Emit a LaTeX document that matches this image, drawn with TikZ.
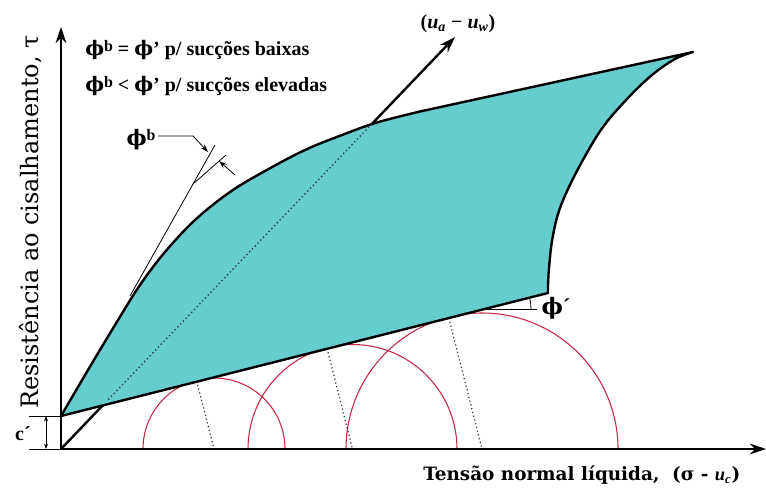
\documentclass[tikz,border=0pt]{standalone}
\usepackage{fontspec}
\setmainfont{Liberation Serif}
\newfontfamily\dvs{DejaVu Serif}
\newcommand{\ph}{{\dvs ϕ}}
\usetikzlibrary{arrows.meta,calc}
\definecolor{fillc}{RGB}{102,204,206}
\definecolor{circc}{RGB}{200,40,70}
\definecolor{dotc}{RGB}{40,60,80}
\begin{document}
\begin{tikzpicture}[x=0.75pt,y=-0.75pt,
  bold/.style={line width=1.8pt},
  thinline/.style={line width=0.6pt},
  mohr/.style={circc,line width=0.8pt},
  rad/.style={dotted,line width=0.9pt,black!80},
  lbl/.style={inner sep=0pt,font=\fontsize{15}{18}\selectfont\bfseries},
  bigtip/.style={-{Stealth[length=12pt,width=8pt]}},
  smalltip/.style={-{Stealth[length=6pt,width=4pt]}}]
\useasboundingbox (0,0) rectangle (766,488);

% key coordinates
\coordinate (O) at (61,449);
\coordinate (Ytip) at (61,27);
\coordinate (Xtip) at (766,449);
\coordinate (C) at (61,416);
\coordinate (K) at (548,293);
\coordinate (Utip) at (455,37);

% Mohr circles
\coordinate (m1) at (214,449);
\coordinate (m2) at (352.5,449);
\coordinate (m3) at (482,449);
\coordinate (p1) at (196.7,381.1);
\coordinate (p2) at (327.1,348.6);
\coordinate (p3) at (448.9,318.1);
\draw[mohr] (143,449) arc[start angle=180,end angle=360,radius=71];
\draw[mohr] (248,449) arc[start angle=180,end angle=360,radius=104.5];
\draw[mohr] (346,449) arc[start angle=180,end angle=360,radius=136];
\draw[rad] (p1) -- (m1);
\draw[rad] (p2) -- (m2);
\draw[rad] (p3) -- (m3);

% suction axis arrow
\draw[bold,bigtip] (O) -- (Utip);

% failure envelope surface
\filldraw[fill=fillc,draw=black,bold,line join=round]
  plot[smooth,tension=0.6] coordinates {(61,416) (88,370) (115,325) (140,285) (165,252) (195,220) (230,192) (265,171) (305,150) (342,135) (377,122.5) (420,111.5)}
  -- (693,52)
  -- plot[smooth,tension=0.6] coordinates {(693,52) (675,59) (652,75) (627,99) (603,127) (584,158) (568,189) (558,214) (552,241) (549,268) (548,285)}
  -- (K) -- cycle;

% dotted part of suction axis inside surface
\draw[dotted,line width=1pt,dotc] ($(O)!0.12!(Utip)$) -- ($(O)!0.79!(Utip)$);

% axes
\draw[line width=1.8pt,{Stealth[length=12pt,width=8pt]}-{Stealth[length=12pt,width=8pt]}] (Ytip) -- (O) -- (Xtip);

% c' dimension
\coordinate (c1) at (29,416);
\coordinate (c0) at (29,449);
\coordinate (d1) at (46,416);
\coordinate (d0) at (46,449);
\draw[thinline] (c1) -- (C);
\draw[thinline] (c0) -- (O);
\draw[thinline,{Stealth[length=4pt,width=3pt]}-{Stealth[length=4pt,width=3pt]}] (d1) -- (d0);
\node[lbl] (clab) at (23,434) {c´};

% phi' angle
\coordinate (a0) at (484,309);
\coordinate (a1) at (537,309);
\draw[thinline] (a0) -- (a1);
\draw[thinline] (531,309) arc[start angle=0,end angle=-14,radius=47];
\node[lbl,font=\fontsize{17}{19}\selectfont\bfseries] (phip) at (556,308) {\ph´};

% phi^b tangent lines and arrows
\coordinate (t0) at (130,296);
\coordinate (t1) at (215,145);
\coordinate (tm) at (193,184);
\coordinate (t2) at (226,155);
\draw[thinline] (t0) -- (t1);
\draw[thinline] (tm) -- (t2);
\node[lbl,font=\fontsize{16}{18}\selectfont\bfseries] (phib) at (141,140) {\ph\raisebox{0.5ex}{\fontsize{12}{12}\selectfont b}};
\coordinate (b0) at (158,136);
\coordinate (b1) at (193,136);
\coordinate (b2) at (208,152);
\draw[thinline,smalltip] (b0) -- (b1) -- (b2);
\coordinate (e1) at (235,175);
\coordinate (e2) at (219,161);
\draw[thinline,smalltip] (e1) -- (e2);

% texts
\node[lbl,anchor=west] (l1) at (85,50) {\ph\raisebox{0.5ex}{\fontsize{12}{12}\selectfont b} = \ph’ p/ sucções baixas};
\node[lbl,anchor=west] (l2) at (85,86) {\ph\raisebox{0.5ex}{\fontsize{12}{12}\selectfont b} < \ph’ p/ sucções elevadas};
\node[lbl] (ulab) at (458,24) {(\textit{u}\textsubscript{\textit{a}} − \textit{u}\textsubscript{\textit{w}})};
\node[inner sep=0pt,anchor=west,font=\fontsize{13.8}{16}\selectfont\bfseries\dvs] (xlab) at (423,475) {Tensão normal líquida,\ \ (σ - {\rmfamily\textit{u}\textsubscript{\textit{c}}})};
\node[inner sep=0pt,rotate=90,font=\fontsize{18}{21}\selectfont\dvs] (ylab) at (31,222) {Resistência ao cisalhamento, τ};
\end{tikzpicture}
\end{document}
